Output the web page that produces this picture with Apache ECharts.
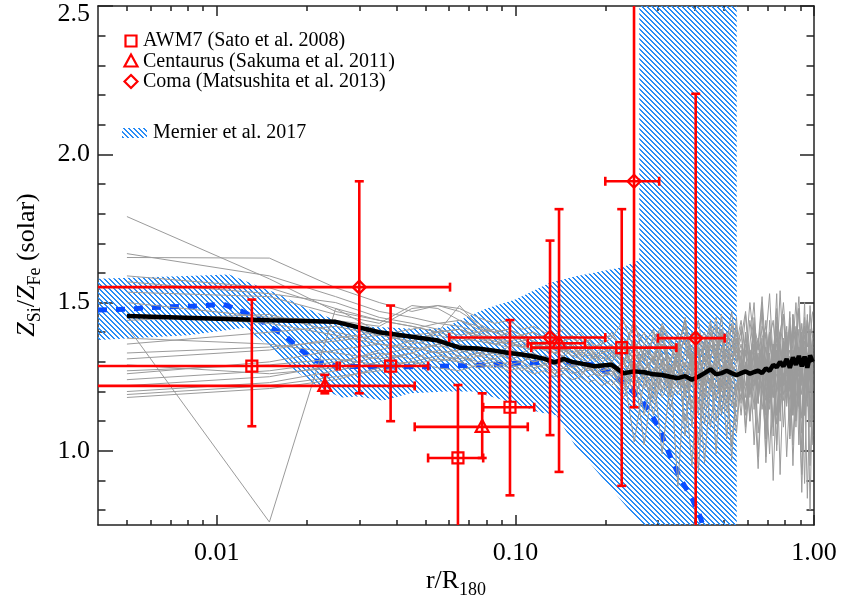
<!DOCTYPE html>
<html>
<head>
<meta charset="utf-8">
<title>Si/Fe profile</title>
<script src="https://cdn.jsdelivr.net/npm/echarts@6/dist/echarts.min.js"></script>
<style>
  html, body { margin: 0; padding: 0; background: #fff; }
  #chart { width: 841px; height: 602px; }
</style>
</head>
<body>
<div id="chart"></div>
<script>
// bin centres of the simulated profiles (r/R180)
const radii = [
  0.005, 0.015, 0.025, 0.035, 0.045, 0.055, 0.065, 0.075, 0.085, 0.095,
  0.105, 0.115, 0.125, 0.135, 0.145, 0.155, 0.165, 0.175, 0.185, 0.195,
  0.21, 0.23, 0.25, 0.27, 0.29, 0.31, 0.33, 0.35, 0.37, 0.39, 0.41, 0.43, 0.45, 0.47, 0.49, 0.51, 0.53, 0.55,
  0.57, 0.59, 0.61, 0.63, 0.65, 0.67, 0.69, 0.71, 0.73, 0.75, 0.77, 0.79, 0.81, 0.83, 0.85, 0.87, 0.89, 0.91, 0.93, 0.95, 0.97, 0.99
];

// median of the simulated clusters (thick black)
const median = [
  1.455, 1.44, 1.435, 1.40, 1.385, 1.372, 1.348, 1.345, 1.338, 1.330,
  1.325, 1.318, 1.31, 1.298, 1.31, 1.30, 1.295, 1.29, 1.285, 1.288,
  1.29, 1.262, 1.268, 1.265, 1.258, 1.256, 1.25, 1.245, 1.252, 1.24, 1.25, 1.262, 1.275, 1.258, 1.262, 1.27, 1.262, 1.255,
  1.262, 1.268, 1.26, 1.266, 1.27, 1.262, 1.278, 1.27, 1.29, 1.282, 1.30, 1.285, 1.31, 1.28, 1.315, 1.29, 1.32, 1.285, 1.318, 1.28, 1.322, 1.30
];

// individual simulated clusters (thin grey)
const sim01 = [1.79, 1.58, 1.47, 1.44, 1.42, 1.40, 1.41, 1.38, 1.37, 1.36, 1.35, 1.37, 1.34, 1.33, 1.35, 1.32, 1.31, 1.33, 1.30, 1.32,
  1.30, 1.35, 1.28, 1.33, 1.22, 1.36, 1.30, 1.40, 1.25, 1.33, 1.12, 1.38, 1.30, 1.42, 1.20, 1.35, 1.28, 1.45,
  1.22, 1.40, 1.10, 1.36, 1.25, 1.48, 1.18, 1.33, 1.05, 1.42, 1.28, 1.37, 1.15, 1.45, 1.22, 1.34, 1.02, 1.38, 1.26, 1.44, 1.20, 1.35];
const sim02 = [1.665, 1.59, 1.52, 1.47, 1.45, 1.43, 1.42, 1.40, 1.41, 1.39, 1.38, 1.36, 1.37, 1.35, 1.34, 1.36, 1.33, 1.35, 1.32, 1.34,
  1.36, 1.30, 1.38, 1.25, 1.40, 1.32, 1.18, 1.36, 1.42, 1.28, 1.35, 1.22, 1.40, 1.31, 1.46, 1.26, 1.38, 1.30,
  1.42, 1.18, 1.36, 1.50, 1.24, 1.38, 1.12, 1.44, 1.30, 1.53, 1.20, 1.36, 1.28, 1.47, 1.15, 1.40, 1.32, 1.24, 1.45, 1.30, 1.38, 1.22];
const sim03 = [1.652, 1.65, 1.55, 1.50, 1.47, 1.49, 1.48, 1.45, 1.43, 1.44, 1.41, 1.42, 1.40, 1.39, 1.41, 1.38, 1.40, 1.37, 1.39, 1.36,
  1.40, 1.34, 1.44, 1.30, 1.38, 1.42, 1.26, 1.35, 1.44, 1.32, 1.40, 1.28, 1.36, 1.45, 1.30, 1.40, 1.34, 1.42,
  1.30, 1.46, 1.26, 1.40, 1.34, 1.50, 1.22, 1.38, 1.44, 1.28, 1.54, 1.32, 1.40, 1.24, 1.46, 1.34, 1.48, 1.30, 1.42, 1.26, 1.49, 1.36];
const sim04 = [1.59, 1.55, 1.48, 1.44, 1.42, 1.40, 1.38, 1.39, 1.37, 1.36, 1.35, 1.34, 1.36, 1.33, 1.32, 1.34, 1.31, 1.30, 1.32, 1.29,
  1.30, 1.24, 1.33, 1.27, 1.18, 1.31, 1.26, 1.34, 1.05, 1.30, 1.24, 1.32, 1.20, 1.28, 1.35, 1.16, 1.30, 1.25,
  1.32, 1.08, 1.28, 1.36, 1.20, 1.30, 0.98, 1.26, 1.34, 1.12, 1.30, 1.22, 1.38, 1.04, 1.28, 1.33, 1.18, 1.26, 0.89, 1.30, 1.24, 1.34];
const sim05 = [1.42, 0.76, 1.48, 1.40, 1.36, 1.38, 1.35, 1.33, 1.34, 1.31, 1.32, 1.30, 1.31, 1.29, 1.30, 1.28, 1.29, 1.27, 1.28, 1.26,
  1.27, 1.20, 1.28, 1.02, 1.25, 1.30, 1.14, 1.26, 1.22, 0.95, 1.27, 1.20, 1.30, 1.10, 1.24, 1.28, 0.97, 1.22,
  1.28, 1.14, 1.32, 1.02, 1.24, 1.30, 1.08, 1.26, 1.18, 1.34, 0.92, 1.25, 1.30, 1.10, 1.27, 1.16, 1.32, 1.00, 1.24, 1.29, 0.80, 1.26];
const sim06 = [1.535, 1.52, 1.46, 1.43, 1.49, 1.48, 1.44, 1.41, 1.40, 1.38, 1.39, 1.37, 1.36, 1.38, 1.35, 1.37, 1.34, 1.36, 1.33, 1.35,
  1.33, 1.38, 1.30, 1.36, 1.41, 1.28, 1.37, 1.33, 1.44, 1.25, 1.36, 1.40, 1.31, 1.38, 1.22, 1.36, 1.42, 1.30,
  1.36, 1.26, 1.44, 1.32, 1.16, 1.38, 1.42, 1.28, 1.36, 1.20, 1.40, 1.46, 1.30, 1.34, 1.12, 1.38, 1.28, 1.43, 1.33, 1.18, 1.40, 1.31];
const sim07 = [1.36, 1.40, 1.42, 1.39, 1.37, 1.35, 1.36, 1.34, 1.33, 1.35, 1.32, 1.33, 1.31, 1.30, 1.32, 1.29, 1.30, 1.28, 1.29, 1.27,
  1.28, 1.22, 1.30, 1.26, 1.12, 1.28, 1.24, 1.31, 1.20, 1.26, 1.02, 1.28, 1.23, 1.30, 1.17, 1.27, 1.24, 1.10,
  1.26, 1.20, 1.34, 1.14, 1.28, 1.22, 1.04, 1.30, 1.18, 1.26, 1.36, 1.08, 1.24, 1.30, 1.15, 1.28, 1.22, 1.06, 1.30, 1.20, 1.27, 1.12];
const sim08 = [1.31, 1.34, 1.38, 1.40, 1.38, 1.39, 1.37, 1.38, 1.36, 1.37, 1.35, 1.36, 1.34, 1.35, 1.33, 1.36, 1.32, 1.34, 1.31, 1.33,
  1.35, 1.29, 1.37, 1.32, 1.26, 1.38, 1.30, 1.35, 1.28, 1.40, 1.33, 1.24, 1.36, 1.31, 1.38, 1.27, 1.34, 1.40,
  1.24, 1.38, 1.30, 1.42, 1.28, 1.35, 1.22, 1.40, 1.33, 1.45, 1.26, 1.38, 1.31, 1.20, 1.42, 1.35, 1.27, 1.40, 1.32, 1.46, 1.25, 1.37];
const sim09 = [1.26, 1.30, 1.34, 1.36, 1.35, 1.33, 1.34, 1.32, 1.33, 1.31, 1.30, 1.32, 1.29, 1.31, 1.28, 1.30, 1.27, 1.29, 1.26, 1.28,
  1.25, 1.31, 1.18, 1.27, 1.32, 1.21, 1.29, 0.88, 1.26, 1.30, 1.16, 1.28, 1.22, 1.33, 1.12, 1.27, 1.30, 1.19,
  1.30, 1.14, 1.27, 1.33, 1.06, 1.24, 1.30, 1.18, 1.35, 1.00, 1.26, 1.31, 1.16, 1.28, 1.36, 1.10, 1.24, 1.30, 1.18, 1.33, 1.08, 1.28];
const sim10 = [1.24, 1.27, 1.30, 1.33, 1.31, 1.34, 1.32, 1.30, 1.31, 1.29, 1.30, 1.28, 1.29, 1.27, 1.28, 1.26, 1.27, 1.25, 1.26, 1.24,
  1.22, 1.27, 1.03, 1.24, 1.28, 1.18, 1.25, 1.21, 1.30, 1.14, 1.23, 1.27, 1.08, 1.25, 1.20, 1.29, 1.15, 1.23,
  1.18, 1.28, 1.10, 1.24, 1.20, 1.32, 0.96, 1.22, 1.27, 1.12, 1.25, 1.19, 1.30, 1.05, 1.22, 1.28, 1.14, 0.92, 1.24, 1.18, 1.29, 1.10];
const sim11 = [1.20, 1.23, 1.27, 1.30, 1.33, 1.36, 1.38, 1.37, 1.36, 1.35, 1.36, 1.34, 1.35, 1.33, 1.34, 1.32, 1.33, 1.31, 1.32, 1.30,
  1.32, 1.36, 1.27, 1.34, 1.30, 1.39, 1.24, 1.33, 1.37, 1.28, 1.35, 1.31, 1.42, 1.26, 1.34, 1.38, 1.29, 1.36,
  1.40, 1.28, 1.34, 1.22, 1.38, 1.31, 1.44, 1.26, 1.36, 1.30, 1.40, 1.24, 1.35, 1.42, 1.28, 1.33, 1.48, 1.26, 1.37, 1.31, 1.41, 1.29];
const sim12 = [1.18, 1.21, 1.24, 1.28, 1.30, 1.32, 1.31, 1.33, 1.32, 1.34, 1.33, 1.35, 1.34, 1.36, 1.33, 1.35, 1.32, 1.34, 1.31, 1.33,
  1.30, 1.35, 1.26, 1.32, 1.38, 1.23, 1.31, 1.36, 1.20, 1.33, 1.29, 1.37, 1.25, 1.32, 1.28, 1.04, 1.30, 1.35,
  1.26, 1.33, 1.18, 1.30, 1.36, 1.24, 1.32, 1.14, 1.29, 1.38, 1.22, 1.31, 1.27, 1.40, 1.18, 1.30, 1.25, 1.34, 1.12, 1.28, 1.36, 1.24];
const sim13 = [1.50, 1.45, 1.44, 1.42, 1.48, 1.49, 1.47, 1.43, 1.40, 1.41, 1.39, 1.40, 1.38, 1.39, 1.37, 1.38, 1.36, 1.37, 1.35, 1.36,
  1.38, 1.44, 1.34, 1.40, 1.30, 1.42, 1.36, 1.28, 1.40, 1.34, 1.44, 1.30, 1.38, 1.34, 1.41, 1.29, 1.43, 1.36,
  1.44, 1.32, 1.50, 1.36, 1.28, 1.42, 1.38, 1.53, 1.30, 1.40, 1.34, 1.46, 1.26, 1.42, 1.36, 1.50, 1.32, 1.40, 1.28, 1.44, 1.38, 1.47];
const sim14 = [1.29, 1.26, 1.28, 1.32, 1.35, 1.33, 1.30, 1.28, 1.29, 1.27, 1.28, 1.26, 1.27, 1.25, 1.26, 1.24, 1.25, 1.23, 1.24, 1.22,
  1.24, 1.18, 1.26, 1.21, 1.27, 0.99, 1.23, 1.19, 1.26, 1.16, 1.24, 0.96, 1.22, 1.27, 1.13, 1.23, 1.02, 1.20,
  1.24, 1.12, 1.26, 1.20, 0.94, 1.23, 1.17, 1.28, 1.08, 1.22, 1.18, 1.26, 0.98, 1.20, 1.25, 1.13, 1.23, 0.86, 1.21, 1.27, 1.16, 1.05];
const sim15 = [1.44, 1.46, 1.40, 1.37, 1.39, 1.40, 1.41, 1.39, 1.38, 1.40, 1.37, 1.38, 1.39, 1.36, 1.37, 1.35, 1.38, 1.34, 1.36, 1.33,
  1.34, 1.30, 1.37, 1.22, 1.33, 1.36, 1.27, 1.32, 1.38, 1.08, 1.31, 1.35, 1.26, 1.33, 1.39, 1.21, 1.30, 1.34,
  1.20, 1.36, 1.30, 1.40, 1.16, 1.33, 1.28, 1.38, 1.24, 1.02, 1.34, 1.29, 1.42, 1.22, 1.31, 1.37, 1.20, 1.32, 1.39, 1.15, 1.30, 1.36];
const sim16 = [1.22, 1.25, 1.29, 1.34, 1.37, 1.40, 1.49, 1.42, 1.38, 1.36, 1.37, 1.35, 1.36, 1.34, 1.35, 1.33, 1.34, 1.32, 1.33, 1.31,
  1.33, 1.28, 1.35, 1.30, 1.25, 1.36, 1.31, 1.22, 1.34, 1.29, 1.37, 1.18, 1.32, 1.36, 1.27, 1.33, 1.30, 1.38,
  1.28, 1.34, 1.20, 1.37, 1.30, 1.26, 1.40, 1.18, 1.33, 1.36, 1.10, 1.31, 1.38, 1.24, 1.34, 1.28, 1.41, 1.22, 1.35, 1.30, 1.14, 1.33];
const sim17 = [1.57, 1.53, 1.50, 1.45, 1.43, 1.41, 1.39, 1.40, 1.38, 1.37, 1.38, 1.36, 1.35, 1.37, 1.34, 1.35, 1.33, 1.36, 1.32, 1.34,
  1.31, 1.37, 1.24, 1.35, 1.29, 1.40, 1.21, 1.33, 1.38, 1.27, 1.34, 1.14, 1.36, 1.30, 1.41, 1.25, 1.33, 1.28,
  1.16, 1.40, 1.26, 1.45, 1.20, 1.35, 1.04, 1.38, 1.28, 1.48, 1.14, 1.34, 1.40, 1.22, 1.46, 1.08, 1.35, 1.27, 1.50, 1.18, 1.38, 1.25];
const sim18 = [1.46, 1.43, 1.39, 1.36, 1.34, 1.36, 1.33, 1.35, 1.34, 1.32, 1.33, 1.31, 1.32, 1.30, 1.31, 1.29, 1.30, 1.28, 1.29, 1.27,
  1.29, 1.23, 1.31, 1.12, 1.27, 1.33, 1.19, 1.28, 1.24, 1.32, 0.93, 1.26, 1.30, 1.17, 1.27, 1.22, 1.31, 1.15,
  1.29, 1.06, 1.25, 1.32, 1.17, 1.28, 1.22, 0.99, 1.27, 1.34, 1.13, 1.26, 1.20, 1.31, 0.95, 1.24, 1.29, 1.11, 1.27, 1.21, 1.33, 1.02];
const sim19 = [1.38, 1.36, 1.33, 1.31, 1.33, 1.30, 1.32, 1.29, 1.30, 1.28, 1.29, 1.27, 1.30, 1.26, 1.28, 1.27, 1.25, 1.28, 1.26, 1.25,
  1.27, 1.21, 1.29, 1.25, 1.16, 1.28, 1.23, 1.30, 1.18, 1.26, 1.29, 1.09, 1.25, 1.21, 1.28, 1.13, 1.24, 1.27,
  1.12, 1.30, 1.20, 1.26, 0.98, 1.24, 1.31, 1.16, 1.27, 1.09, 1.25, 1.32, 1.18, 1.23, 1.02, 1.28, 1.20, 1.30, 1.12, 1.26, 0.95, 1.22];
const sim20 = [1.33, 1.35, 1.37, 1.39, 1.41, 1.43, 1.44, 1.42, 1.40, 1.41, 1.39, 1.40, 1.38, 1.39, 1.37, 1.39, 1.36, 1.38, 1.35, 1.37,
  1.39, 1.34, 1.42, 1.36, 1.31, 1.43, 1.37, 1.33, 1.45, 1.30, 1.39, 1.35, 1.44, 1.32, 1.40, 1.36, 1.47, 1.33,
  1.38, 1.47, 1.30, 1.42, 1.36, 1.52, 1.32, 1.40, 1.26, 1.45, 1.38, 1.50, 1.34, 1.28, 1.44, 1.39, 1.52, 1.30, 1.41, 1.35, 1.46, 1.38];
const sim21 = [1.27, 1.29, 1.31, 1.29, 1.30, 1.28, 1.27, 1.29, 1.28, 1.30, 1.27, 1.29, 1.28, 1.26, 1.27, 1.29, 1.26, 1.28, 1.27, 1.25,
  1.26, 1.30, 1.22, 1.27, 1.31, 1.20, 1.26, 1.29, 1.10, 1.25, 1.28, 1.23, 1.30, 1.18, 1.26, 1.29, 1.21, 1.06,
  1.25, 1.29, 1.19, 1.27, 1.33, 1.14, 1.25, 1.28, 0.90, 1.23, 1.29, 1.17, 1.26, 1.31, 1.12, 1.24, 1.28, 1.19, 1.27, 0.84, 1.22, 1.30];
const sim22 = [1.19, 1.22, 1.25, 1.27, 1.29, 1.31, 1.30, 1.32, 1.31, 1.33, 1.32, 1.30, 1.31, 1.29, 1.30, 1.28, 1.30, 1.27, 1.29, 1.28,
  1.30, 1.25, 1.33, 1.28, 1.20, 1.31, 1.26, 1.34, 1.22, 1.29, 1.33, 1.24, 1.30, 0.99, 1.27, 1.32, 1.25, 1.30,
  1.34, 1.22, 1.30, 1.40, 1.18, 1.29, 1.35, 1.24, 1.10, 1.31, 1.27, 1.37, 1.20, 1.32, 1.25, 1.42, 1.15, 1.30, 1.35, 1.23, 1.33, 1.27];
const simProfiles = [sim01, sim02, sim03, sim04, sim05, sim06, sim07, sim08, sim09, sim10, sim11,
  sim12, sim13, sim14, sim15, sim16, sim17, sim18, sim19, sim20, sim21, sim22];

// Mernier et al. 2017: best-fit (dashed blue) and hatched envelope
const mernierR = [0.004, 0.005, 0.006, 0.007, 0.008, 0.009, 0.0105, 0.012, 0.0135, 0.015,
  0.017, 0.019, 0.021, 0.025, 0.03, 0.05, 0.08, 0.1, 0.14, 0.18,
  0.21, 0.23, 0.26, 0.28, 0.305, 0.32, 0.338, 0.36, 0.39, 0.416, 0.43];
const mernierZ = [1.475, 1.478, 1.483, 1.486, 1.487, 1.489, 1.495, 1.472, 1.45, 1.42,
  1.387, 1.343, 1.306, 1.286, 1.284, 1.284, 1.29, 1.295, 1.30, 1.29,
  1.26, 1.229, 1.18, 1.138, 1.07, 1.014, 0.957, 0.90, 0.84, 0.777, 0.73];
const bandUpperR = [0.004, 0.008, 0.011, 0.013, 0.016, 0.02, 0.025, 0.03, 0.05, 0.0587,
  0.065, 0.08, 0.1, 0.13, 0.158, 0.23, 0.255, 0.26, 0.26, 0.551];
const bandUpperZ = [1.58, 1.59, 1.595, 1.565, 1.53, 1.48, 1.44, 1.42, 1.41, 1.418,
  1.44, 1.48, 1.51, 1.566, 1.588, 1.62, 1.64, 1.645, 2.6, 2.6];
const bandLowerR = [0.004, 0.008, 0.0124, 0.0155, 0.0183, 0.0208, 0.0235, 0.0262, 0.0297, 0.0361,
  0.0444, 0.0587, 0.072, 0.1, 0.12, 0.137, 0.158, 0.265, 0.326, 0.551];
const bandLowerZ = [1.374, 1.39, 1.415, 1.34, 1.27, 1.23, 1.20, 1.18, 1.183, 1.17,
  1.194, 1.2, 1.2, 1.16, 1.13, 1.12, 1.02, 0.75, 0.65, 0.65];

// observations: [r, r_lo, r_hi, Z, Z_lo, Z_hi]
const awm7 = [
  [0.0131, 0.001, 0.0252, 1.286, 1.083, 1.510],
  [0.0382, 0.0258, 0.0510, 1.286, 1.100, 1.490],
  [0.0642, 0.0510, 0.0780, 0.976, 0.600, 1.222],
  [0.0959, 0.0780, 0.1156, 1.147, 0.850, 1.441],
  [0.2270, 0.1130, 0.3460, 1.348, 0.882, 1.815]
];
const centaurus = [
  [0.0230, 0.001, 0.0460, 1.219, 1.194, 1.256],
  [0.0774, 0.0460, 0.1100, 1.081, 0.976, 1.194],
  [0.1400, 0.1100, 0.1710, 1.363, 0.929, 1.815]
];
const coma = [
  [0.0300, 0.001, 0.0604, 1.552, 1.194, 1.909],
  [0.1306, 0.0600, 0.2000, 1.382, 1.053, 1.709],
  [0.2496, 0.2000, 0.3030, 1.909, 1.147, 2.700],
  [0.4016, 0.3000, 0.5020, 1.380, 0.600, 2.204]
];

const legendLabels = ['AWM7 (Sato et al. 2008)', 'Centaurus (Sakuma et al. 2011)',
  'Coma (Matsushita et al. 2013)', 'Mernier et al. 2017'];

const xMajorTicks = [0.01, 0.1, 1];
const xMinorTicks = [0.005, 0.006, 0.007, 0.008, 0.009, 0.02, 0.03, 0.04, 0.05, 0.06, 0.07, 0.08, 0.09,
  0.2, 0.3, 0.4, 0.5, 0.6, 0.7, 0.8, 0.9];
const yMajorTicks = [1.0, 1.5, 2.0, 2.5];
const yMinorTicks = [0.8, 0.9, 1.1, 1.2, 1.3, 1.4, 1.6, 1.7, 1.8, 1.9, 2.1, 2.2, 2.3, 2.4];

const RED = '#ff0000';
const GREY = '#9b9b9b';
const HATCH = '#2a8cf5';
const FONT = '"Liberation Serif", "DejaVu Serif", serif';

// diagonal hatch tile
const hatchTile = document.createElement('canvas');
hatchTile.width = 5;
hatchTile.height = 5;
const hctx = hatchTile.getContext('2d');
hctx.fillStyle = HATCH;
for (let i = 0; i < 5; i++) {
  hctx.fillRect(i, i, 1, 1);
  hctx.fillRect((i + 1) % 5, i, 1, 1);
}
const hatchFill = { image: hatchTile, repeat: 'repeat' };

const measureCtx = document.createElement('canvas').getContext('2d');
const textWidth = (str, font) => {
  measureCtx.font = font;
  return measureCtx.measureText(str).width;
};

// pieces: [text, size, baseline shift, italic]
const richText = (pieces, centreX, baseY) => {
  const fonts = pieces.map(p => (p[3] ? 'italic ' : '') + p[1] + 'px ' + FONT);
  const total = pieces.reduce((s, p, i) => s + textWidth(p[0], fonts[i]), 0);
  let x = centreX - total / 2;
  return pieces.map((p, i) => {
    const el = {
      type: 'text', x: x, y: baseY + p[2] - 0.34 * p[1],
      style: { text: p[0], font: fonts[i], fill: '#000', align: 'left', verticalAlign: 'middle' }
    };
    x += textWidth(p[0], fonts[i]);
    return el;
  });
};

const marker = (shape, cx, cy) => {
  const style = { stroke: RED, fill: 'none', lineWidth: 2.2 };
  if (shape === 'square') {
    return { type: 'rect', shape: { x: cx - 5.5, y: cy - 5.5, width: 11, height: 11 }, style };
  }
  if (shape === 'triangle') {
    return { type: 'polygon', shape: { points: [[cx, cy - 7], [cx + 6.5, cy + 5], [cx - 6.5, cy + 5]] }, style };
  }
  return { type: 'polygon', shape: { points: [[cx, cy - 6.5], [cx + 6.5, cy], [cx, cy + 6.5], [cx - 6.5, cy]] }, style };
};

const errorBars = (shape) => (params, api) => {
  const x = api.value(0);
  const y = api.value(3);
  const c = api.coord([x, y]);
  const lo = api.coord([api.value(1), y]);
  const hi = api.coord([api.value(2), y]);
  const bot = api.coord([x, api.value(4)]);
  const top = api.coord([x, api.value(5)]);
  const ls = { stroke: RED, lineWidth: 2.6 };
  const cap = 4.5;
  const line = (x1, y1, x2, y2) => ({ type: 'line', shape: { x1, y1, x2, y2 }, style: ls });
  return {
    type: 'group',
    children: [
      line(lo[0], c[1], hi[0], c[1]),
      line(c[0], bot[1], c[0], top[1]),
      line(lo[0], c[1] - cap, lo[0], c[1] + cap),
      line(hi[0], c[1] - cap, hi[0], c[1] + cap),
      line(c[0] - cap, bot[1], c[0] + cap, bot[1]),
      line(c[0] - cap, top[1], c[0] + cap, top[1]),
      marker(shape, c[0], c[1])
    ]
  };
};

const axisLine = { show: true, onZero: false, lineStyle: { color: '#222', width: 1.5 } };
const tickLine = { color: '#222', width: 1.5 };
const labelFont = { color: '#000', fontFamily: FONT, fontSize: 26 };

const xBase = { type: 'log', logBase: 10, min: 0.004, max: 1, splitLine: { show: false } };
const yBase = { type: 'value', min: 0.75, max: 2.5, splitLine: { show: false } };

const chart = echarts.init(document.getElementById('chart'));

const series = [
  {
    type: 'custom', z: 1, clip: true, silent: true,
    data: [[bandUpperR[0], bandUpperZ[0]]],
    renderItem: (params, api) => {
      const pts = bandUpperR.map((r, i) => api.coord([r, bandUpperZ[i]]));
      for (let i = bandLowerR.length - 1; i >= 0; i--) pts.push(api.coord([bandLowerR[i], bandLowerZ[i]]));
      return { type: 'polygon', shape: { points: pts }, style: { fill: hatchFill } };
    }
  },
  {
    type: 'line', z: 2, symbol: 'none', silent: true,
    data: mernierR.map((r, i) => [r, mernierZ[i]]),
    lineStyle: { color: '#0a4dff', width: 5, type: [9, 9], cap: 'butt' }
  }
];
simProfiles.forEach(p => {
  series.push({
    type: 'line', z: 3, symbol: 'none', silent: true,
    data: radii.map((r, i) => [r, p[i]]),
    lineStyle: { color: GREY, width: 1 }
  });
});
series.push({
  type: 'line', z: 4, symbol: 'none', silent: true,
  data: radii.map((r, i) => [r, median[i]]),
  lineStyle: { color: '#000', width: 4.5 }
});
[[awm7, 'square'], [centaurus, 'triangle'], [coma, 'diamond']].forEach(([rows, shape]) => {
  series.push({
    type: 'custom', z: 5, clip: true, silent: true,
    encode: { x: 0, y: 3 },
    data: rows,
    renderItem: errorBars(shape)
  });
});

const legendY = [41, 61.5, 81.5];
const graphic = [];
['square', 'triangle', 'diamond'].forEach((shape, i) => {
  graphic.push(marker(shape, 131, legendY[i]));
  graphic.push({
    type: 'text', x: 143, y: legendY[i],
    style: { text: legendLabels[i], font: '20px ' + FONT, fill: '#000', align: 'left', verticalAlign: 'middle' }
  });
});
graphic.push({ type: 'rect', shape: { x: 122, y: 128, width: 25, height: 10 }, style: { fill: hatchFill } });
graphic.push({
  type: 'text', x: 153, y: 133,
  style: { text: legendLabels[3], font: '20px ' + FONT, fill: '#000', align: 'left', verticalAlign: 'middle' }
});
// axis titles
richText([['r/R', 26, 0], ['180', 18, 6]], 456, 590).forEach(el => graphic.push(el));
graphic.push({
  type: 'group', x: 36, y: 265, rotation: Math.PI / 2,
  children: richText([['Z', 26, 0, true], ['Si', 18, 5], ['/', 26, 0], ['Z', 26, 0, true],
    ['Fe', 18, 5], [' (solar)', 26, 0]], 0, 0)
});

chart.setOption({
  animation: false,
  backgroundColor: '#fff',
  grid: { left: 98, top: 6, right: 27, bottom: 77, containLabel: false },
  xAxis: [
    {
      ...xBase, position: 'bottom', axisLine,
      axisTick: { inside: true, length: 10, customValues: xMajorTicks, lineStyle: tickLine },
      axisLabel: { ...labelFont, margin: 15, customValues: xMajorTicks, formatter: v => Number(v).toFixed(2) }
    },
    {
      ...xBase, position: 'bottom', axisLine: { show: false },
      axisTick: { inside: true, length: 5, customValues: xMinorTicks, lineStyle: tickLine },
      axisLabel: { show: false }
    },
    {
      ...xBase, position: 'top', axisLine,
      axisTick: { inside: true, length: 10, customValues: xMajorTicks, lineStyle: tickLine },
      axisLabel: { show: false }
    },
    {
      ...xBase, position: 'top', axisLine: { show: false },
      axisTick: { inside: true, length: 5, customValues: xMinorTicks, lineStyle: tickLine },
      axisLabel: { show: false }
    }
  ],
  yAxis: [
    {
      ...yBase, position: 'left', axisLine,
      axisTick: { inside: true, length: 15, customValues: yMajorTicks, lineStyle: tickLine },
      axisLabel: {
        ...labelFont, margin: 8, customValues: yMajorTicks,
        formatter: v => (Math.abs(v - 2.5) < 1e-6 ? '{t|2.5}' : Number(v).toFixed(1)),
        rich: { t: { fontFamily: FONT, fontSize: 26, color: '#000', padding: [17, 0, 0, 0] } }
      }
    },
    {
      ...yBase, position: 'left', axisLine: { show: false },
      axisTick: { inside: true, length: 7.5, customValues: yMinorTicks, lineStyle: tickLine },
      axisLabel: { show: false }
    },
    {
      ...yBase, position: 'right', axisLine,
      axisTick: { inside: true, length: 14, customValues: yMajorTicks, lineStyle: tickLine },
      axisLabel: { show: false }
    },
    {
      ...yBase, position: 'right', axisLine: { show: false },
      axisTick: { inside: true, length: 7.5, customValues: yMinorTicks, lineStyle: tickLine },
      axisLabel: { show: false }
    }
  ],
  series,
  graphic
});
</script>
</body>
</html>
